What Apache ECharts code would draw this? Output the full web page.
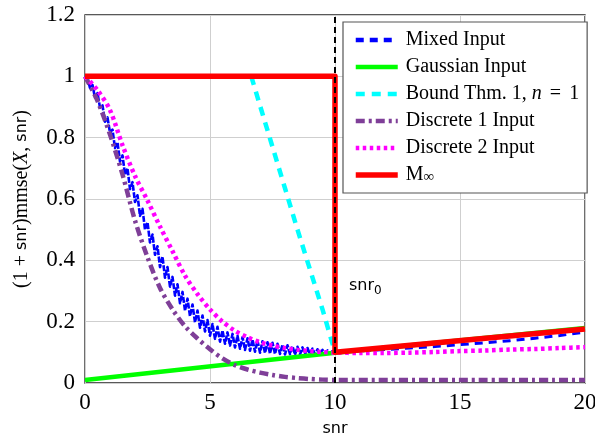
<!DOCTYPE html>
<html>
<head>
<meta charset="utf-8">
<script src="https://cdn.jsdelivr.net/npm/echarts@6/dist/echarts.min.js"></script>
<style>
  html, body { margin: 0; padding: 0; background: #fff; }
  #chart { width: 595px; height: 439px; }
</style>
</head>
<body>
<div id="chart"></div>
<script>
// ---- data ----------------------------------------------------------------
// Mixed input: simulated curve, sampled every 0.1 on [0, 10] (noisy estimate)
const mixedNoisyStart = 0;
const mixedNoisyStep = 0.1;
const mixedNoisyY = [
  1.000, 0.995, 0.962, 0.972, 0.930, 0.945, 0.898, 0.905, 0.852, 0.866,
  0.816, 0.826, 0.766, 0.785, 0.722, 0.742, 0.680, 0.700, 0.632, 0.655,
  0.590, 0.612, 0.545, 0.568, 0.500, 0.524, 0.458, 0.484, 0.418, 0.446,
  0.378, 0.412, 0.343, 0.378, 0.314, 0.346, 0.285, 0.322, 0.260, 0.297,
  0.236, 0.275, 0.218, 0.256, 0.198, 0.236, 0.180, 0.220, 0.168, 0.205,
  0.154, 0.192, 0.144, 0.183, 0.135, 0.171, 0.128, 0.165, 0.122, 0.160,
  0.116, 0.154, 0.112, 0.149, 0.108, 0.146, 0.105, 0.142, 0.102, 0.138,
  0.099, 0.136, 0.098, 0.133, 0.096, 0.131, 0.095, 0.128, 0.095, 0.125,
  0.093, 0.123, 0.094, 0.120, 0.093, 0.118, 0.093, 0.116, 0.093, 0.114,
  0.094, 0.112, 0.094, 0.110, 0.095, 0.108, 0.096, 0.106, 0.097, 0.104,
  0.100
];
// Mixed input beyond snr0
const mixedTailX = [10, 11, 12, 13, 14, 15, 16, 17, 18, 19, 20];
const mixedTailY = [0.100, 0.105, 0.109, 0.114, 0.119, 0.125, 0.131, 0.138, 0.146, 0.155, 0.166];

const gaussianX = [0, 10, 20];
const gaussianY = [0.010, 0.099, 0.179];

const boundX = [6.65, 7.0, 7.5, 8.0, 8.5, 9.0, 9.5, 10.0];
const boundY = [1.000, 0.905, 0.770, 0.635, 0.500, 0.370, 0.240, 0.100];

const disc1X = [0, 0.5, 1, 1.5, 2, 2.5, 3, 3.5, 4, 4.5, 5, 5.5, 6, 6.5, 7, 7.5, 8, 8.5, 9, 9.5, 10, 15, 20];
const disc1Y = [1.000, 0.920, 0.810, 0.680, 0.530, 0.410, 0.310, 0.240, 0.185, 0.145, 0.110, 0.080,
                0.058, 0.044, 0.034, 0.026, 0.020, 0.016, 0.013, 0.011, 0.010, 0.010, 0.010];

const disc2X = [0, 0.5, 1, 1.5, 2, 2.5, 3, 3.5, 4, 4.5, 5, 5.5, 6, 6.5, 7, 7.5, 8, 8.5, 9, 9.5, 10,
                11, 12, 13, 14, 15, 16, 17, 18, 19, 20];
const disc2Y = [1.000, 0.955, 0.890, 0.775, 0.675, 0.595, 0.510, 0.430, 0.350, 0.290, 0.240, 0.200,
                0.170, 0.149, 0.133, 0.122, 0.114, 0.108, 0.104, 0.101, 0.099,
                0.098, 0.098, 0.099, 0.101, 0.104, 0.106, 0.109, 0.111, 0.114, 0.117];

const mInfX = [0, 10, 10, 20];
const mInfY = [1.000, 1.000, 0.100, 0.176];

const snr0 = 10;

const xTicks = { min: 0, max: 20, step: 5 };
const yTicks = { min: 0, max: 1.2, step: 0.2 };

// ---- helpers ---------------------------------------------------------------
const zip = (xs, ys) => xs.map((x, i) => [x, ys[i]]);
const mixedNoisyData = mixedNoisyY.map((y, i) => [+(mixedNoisyStart + i * mixedNoisyStep).toFixed(2), y]);
const mixedTailData = zip(mixedTailX, mixedTailY);

const SERIF = 'Liberation Serif';
const SANS = 'DejaVu Sans';

function lineSeries(name, data, color, width, type, extra) {
  return Object.assign({
    name: name,
    type: 'line',
    data: data,
    symbol: 'none',
    showSymbol: false,
    animation: false,
    lineStyle: { color: color, width: width, type: type, cap: 'butt', join: 'round' },
    itemStyle: { color: color },
    emphasis: { disabled: true }
  }, extra || {});
}

const chart = echarts.init(document.getElementById('chart'), null, { renderer: 'canvas' });

const legendRich = {
  a: { fontFamily: SERIF, fontSize: 20, color: '#000' },
  i: { fontFamily: SERIF, fontSize: 20, fontStyle: 'italic', color: '#000' },
  e: { fontFamily: SERIF, fontSize: 20, color: '#000', padding: [0, 8, 0, 8] },
  sub: { fontFamily: SERIF, fontSize: 15, color: '#000', verticalAlign: 'bottom', padding: [8, 0, 0, 0] }
};

chart.setOption({
  backgroundColor: '#fff',
  animation: false,
  grid: {
    left: 85, right: 10, top: 15, bottom: 56,
    outerBoundsMode: 'none',
    containLabel: false,
    show: true, borderColor: '#222', borderWidth: 1.3, backgroundColor: 'transparent'
  },
  xAxis: {
    type: 'value',
    min: xTicks.min, max: xTicks.max, interval: xTicks.step,
    axisLine: { show: false },
    axisTick: { show: false },
    splitLine: { show: true, lineStyle: { color: '#cfcfcf', width: 1 } },
    axisLabel: { fontFamily: SERIF, fontSize: 23, color: '#000', margin: 8 },
    name: 'snr',
    nameLocation: 'middle',
    nameGap: 38,
    nameTextStyle: { fontFamily: SANS, fontSize: 16, color: '#000' }
  },
  yAxis: {
    type: 'value',
    min: yTicks.min, max: yTicks.max, interval: yTicks.step,
    axisLine: { show: false },
    axisTick: { show: false },
    splitLine: { show: true, lineStyle: { color: '#cfcfcf', width: 1 } },
    axisLabel: { fontFamily: SERIF, fontSize: 23, color: '#000', margin: 10 },
    name: '{s|(1 + }{f|snr}{s|)mmse(}{i|X}{s|, }{f|snr}{s|)}',
    nameLocation: 'middle',
    nameRotate: 90,
    nameGap: 53,
    nameTextStyle: {
      color: '#000',
      rich: {
        s: { fontFamily: SERIF, fontSize: 20, color: '#000' },
        i: { fontFamily: SERIF, fontSize: 20, fontStyle: 'italic', color: '#000' },
        f: { fontFamily: SANS, fontSize: 16, color: '#000' }
      }
    }
  },
  legend: {
    orient: 'vertical',
    left: 343, top: 22,
    padding: [8, 8, 8, 10],
    itemWidth: 42, itemHeight: 12, itemGap: 7,
    backgroundColor: '#fff',
    borderColor: '#555', borderWidth: 1.2, borderRadius: 0,
    selectedMode: false,
    itemStyle: { opacity: 0 },
    lineStyle: { width: 4.5 },
    data: [
      { name: 'Mixed Input', lineStyle: { type: [8, 6], width: 4.5 } },
      'Gaussian Input', 'Bound Thm. 1, n = 1', 'Discrete 1 Input', 'Discrete 2 Input',
      { name: 'M\u221E', lineStyle: { width: 5.5 } }
    ],
    textStyle: { fontFamily: SERIF, fontSize: 20, color: '#000', lineHeight: 20, padding: [0, 0, 0, 3], rich: legendRich },
    formatter: function (name) {
      if (name === 'Bound Thm. 1, n = 1') return '{a|Bound Thm. 1, }{i|n}{e|=}{a|1}';
      if (name === 'M\u221E') return '{a|M}{sub|\u221E}';
      return '{a|' + name + '}';
    }
  },
  graphic: [{
    type: 'text',
    left: 349, top: 278,
    style: {
      text: '{a|snr}{b|0}',
      rich: {
        a: { fontFamily: SANS, fontSize: 16, fill: '#000', color: '#000' },
        b: { fontFamily: SANS, fontSize: 12, fill: '#000', color: '#000', verticalAlign: 'bottom', padding: [10, 0, 0, 0] }
      }
    },
    z: 100
  }],
  series: [
    lineSeries('Mixed Input', mixedNoisyData, '#0000ff', 2.6, [6, 1.5]),
    lineSeries('Mixed Input', mixedTailData, '#0000ff', 3, [8, 6]),
    lineSeries('Gaussian Input', zip(gaussianX, gaussianY), '#00ff00', 4.5, 'solid'),
    lineSeries('Bound Thm. 1, n = 1', zip(boundX, boundY), '#00ffff', 4.5, [9, 7]),
    lineSeries('Discrete 1 Input', zip(disc1X, disc1Y), '#7f3f98', 4.5, [9, 4, 3, 4], { smooth: 0.3 }),
    lineSeries('Discrete 2 Input', zip(disc2X, disc2Y), '#ff00ff', 4.5, [3.5, 3.5], { smooth: 0.3 }),
    lineSeries('M\u221E', zip(mInfX, mInfY), '#ff0000', 5.5, 'solid'),
    lineSeries('snr0', [[snr0, yTicks.min], [snr0, yTicks.max]], '#000', 2, [6, 4], { z: 10 })
  ]
});
</script>
</body>
</html>
